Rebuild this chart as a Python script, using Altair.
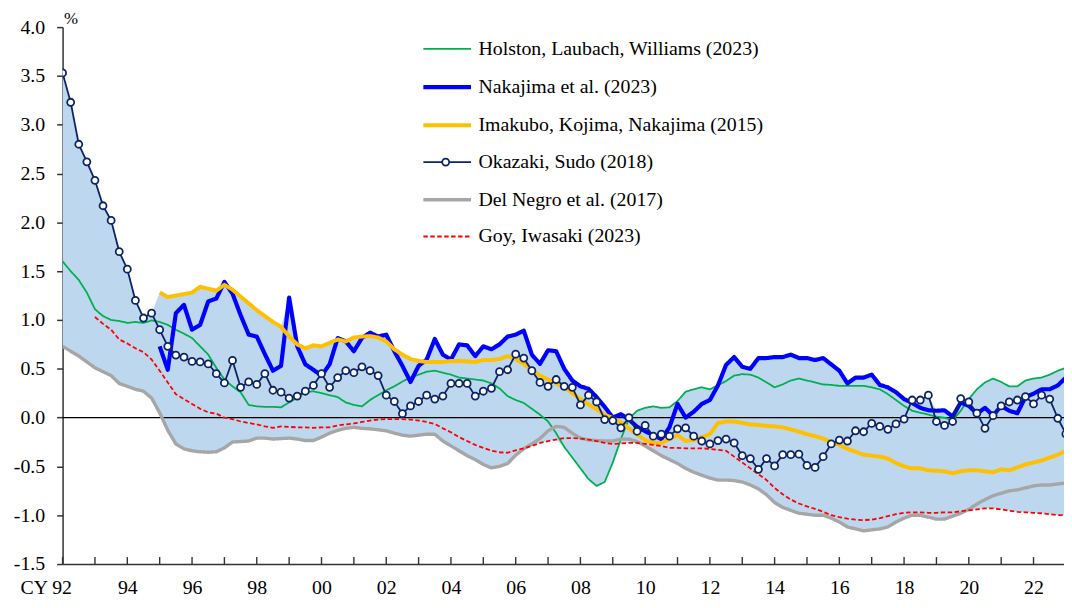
import altair as alt
import pandas as pd

# ---------------- data (quarterly, first quarter = 1992Q1) ----------------
START_YEAR = 1992
N_QUARTERS = 125

series_names = [
    "Holston, Laubach, Williams (2023)",
    "Nakajima et al. (2023)",
    "Imakubo, Kojima, Nakajima (2015)",
    "Okazaki, Sudo (2018)",
    "Del Negro et al. (2017)",
    "Goy, Iwasaki (2023)",
]
series_colors = ["#00B050", "#0000FF", "#FFC000", "#0B2466", "#A6A6A6", "#FF0000"]
series_widths = [1.8, 4.2, 4.0, 1.8, 3.4, 1.8]
series_dashes = [[1, 0], [1, 0], [1, 0], [1, 0], [1, 0], [4.5, 2.5]]

# start quarter index of each series
hlw_start = 0
hlw = [1.60, 1.50, 1.41, 1.28, 1.11, 1.04, 1.00, 0.99, 0.97, 0.98, 0.97, 0.995, 0.98, 0.95, 0.90, 0.86,
       0.815, 0.73, 0.645, 0.51, 0.39, 0.32, 0.26, 0.13, 0.115, 0.11, 0.11, 0.105, 0.155, 0.205, 0.26, 0.27,
       0.25, 0.23, 0.21, 0.155, 0.13, 0.115, 0.18, 0.23, 0.28, 0.32, 0.37, 0.41, 0.44, 0.47, 0.48, 0.46,
       0.44, 0.41, 0.40, 0.39, 0.38, 0.35, 0.30, 0.22, 0.18, 0.15, 0.09, 0.03, -0.04, -0.16, -0.30, -0.41,
       -0.52, -0.63, -0.70, -0.66, -0.46, -0.22, -0.01, 0.07, 0.10, 0.115, 0.10, 0.105, 0.17, 0.265, 0.29, 0.31,
       0.29, 0.33, 0.375, 0.43, 0.445, 0.44, 0.41, 0.36, 0.31, 0.34, 0.38, 0.40, 0.38, 0.36, 0.34, 0.335,
       0.325, 0.325, 0.325, 0.325, 0.31, 0.29, 0.24, 0.18, 0.12, 0.07, 0.05, 0.03, 0.01, 0.0, -0.03, 0.07,
       0.19, 0.29, 0.36, 0.40, 0.365, 0.32, 0.32, 0.38, 0.40, 0.41, 0.44, 0.48, 0.51]

nakajima_start = 12
nakajima = [0.73, 0.49, 1.07, 1.155, 0.90, 0.95, 1.19, 1.22, 1.39, 1.27, 1.05, 0.85, 0.83, 0.65, 0.48, 0.53,
            1.23, 0.73, 0.545, 0.49, 0.43, 0.545, 0.815, 0.78, 0.68, 0.815, 0.87, 0.83, 0.85, 0.68, 0.53, 0.365,
            0.53, 0.595, 0.805, 0.645, 0.595, 0.75, 0.74, 0.63, 0.73, 0.70, 0.75, 0.83, 0.85, 0.89, 0.645, 0.55,
            0.69, 0.68, 0.50, 0.38, 0.32, 0.295, 0.21, 0.11, 0.0, 0.035, -0.02, -0.095, -0.14, -0.18, -0.22, -0.10,
            0.14, 0.0, 0.06, 0.14, 0.18, 0.33, 0.54, 0.62, 0.52, 0.50, 0.61, 0.61, 0.62, 0.62, 0.645, 0.61,
            0.61, 0.59, 0.61, 0.545, 0.48, 0.35, 0.41, 0.41, 0.44, 0.335, 0.31, 0.26, 0.19, 0.15, 0.10, 0.075,
            0.07, 0.075, 0.01, 0.155, 0.12, 0.04, 0.10, 0.02, 0.12, 0.07, 0.045, 0.21, 0.245, 0.29, 0.29, 0.33,
            0.41]

imakubo_start = 12
imakubo = [1.28, 1.235, 1.25, 1.265, 1.28, 1.34, 1.32, 1.30, 1.36, 1.31, 1.24, 1.17, 1.10, 1.04, 0.98, 0.93,
           0.83, 0.75, 0.71, 0.74, 0.73, 0.765, 0.80, 0.78, 0.82, 0.83, 0.835, 0.82, 0.78, 0.70, 0.645, 0.60,
           0.58, 0.57, 0.57, 0.57, 0.58, 0.58, 0.575, 0.57, 0.59, 0.59, 0.60, 0.63, 0.60, 0.55, 0.485, 0.43,
           0.39, 0.35, 0.31, 0.25, 0.19, 0.135, 0.085, 0.03, -0.005, -0.05, -0.11, -0.175, -0.23, -0.26, -0.26, -0.22,
           -0.18, -0.24, -0.23, -0.20, -0.17, -0.055, -0.04, -0.04, -0.055, -0.07, -0.075, -0.085, -0.09, -0.10, -0.12, -0.145,
           -0.17, -0.19, -0.215, -0.25, -0.28, -0.32, -0.35, -0.38, -0.39, -0.40, -0.42, -0.465, -0.50, -0.52, -0.52, -0.54,
           -0.545, -0.55, -0.57, -0.55, -0.54, -0.54, -0.55, -0.56, -0.53, -0.54, -0.51, -0.48, -0.46, -0.44, -0.41, -0.38,
           -0.34]

okazaki_start = 0
okazaki = [3.53, 3.23, 2.80, 2.62, 2.43, 2.17, 2.02, 1.70, 1.52, 1.20, 1.02, 1.07, 0.90, 0.73, 0.64, 0.62,
           0.575, 0.57, 0.55, 0.45, 0.355, 0.585, 0.31, 0.365, 0.34, 0.45, 0.28, 0.26, 0.20, 0.22, 0.27, 0.33,
           0.45, 0.31, 0.41, 0.48, 0.46, 0.52, 0.48, 0.43, 0.23, 0.165, 0.04, 0.12, 0.165, 0.23, 0.19, 0.22,
           0.35, 0.35, 0.35, 0.22, 0.27, 0.30, 0.47, 0.49, 0.65, 0.61, 0.48, 0.36, 0.32, 0.39, 0.32, 0.31,
           0.13, 0.23, 0.16, -0.02, -0.03, -0.105, 0.0, -0.14, -0.08, -0.19, -0.17, -0.19, -0.115, -0.105, -0.19, -0.24,
           -0.27, -0.235, -0.22, -0.26, -0.39, -0.42, -0.53, -0.42, -0.495, -0.38, -0.38, -0.375, -0.49, -0.51, -0.40, -0.27,
           -0.23, -0.24, -0.135, -0.145, -0.06, -0.09, -0.12, -0.065, -0.015, 0.18, 0.18, 0.23, -0.04, -0.08, -0.04, 0.195,
           0.16, 0.045, -0.11, 0.02, 0.12, 0.16, 0.18, 0.215, 0.14, 0.23, 0.19, -0.007, -0.167]

delnegro_start = 0
delnegro = [0.73, 0.68, 0.63, 0.57, 0.51, 0.47, 0.43, 0.35, 0.32, 0.29, 0.27, 0.20, 0.05, -0.13, -0.27, -0.32,
            -0.34, -0.35, -0.355, -0.35, -0.31, -0.25, -0.245, -0.24, -0.21, -0.21, -0.22, -0.215, -0.21, -0.22, -0.235, -0.235,
            -0.20, -0.16, -0.13, -0.11, -0.10, -0.11, -0.115, -0.125, -0.135, -0.16, -0.18, -0.19, -0.18, -0.17, -0.17, -0.24,
            -0.29, -0.34, -0.39, -0.43, -0.48, -0.515, -0.50, -0.47, -0.385, -0.32, -0.27, -0.215, -0.135, -0.09, -0.10, -0.16,
            -0.21, -0.23, -0.235, -0.24, -0.24, -0.22, -0.22, -0.245, -0.29, -0.34, -0.39, -0.43, -0.47, -0.52, -0.56, -0.59,
            -0.62, -0.64, -0.64, -0.645, -0.66, -0.69, -0.73, -0.79, -0.87, -0.92, -0.95, -0.98, -0.99, -1.00, -1.00, -1.03,
            -1.07, -1.12, -1.14, -1.16, -1.15, -1.14, -1.12, -1.07, -1.03, -1.00, -1.00, -1.02, -1.04, -1.04, -1.01, -0.98,
            -0.94, -0.885, -0.84, -0.80, -0.775, -0.75, -0.74, -0.72, -0.70, -0.69, -0.69, -0.68, -0.67]

goy_start = 4
goy = [1.03, 0.96, 0.90, 0.80, 0.76, 0.71, 0.67, 0.595, 0.48, 0.36, 0.24, 0.19, 0.14, 0.09, 0.055, 0.04,
       0.0, -0.015, -0.04, -0.055, -0.07, -0.09, -0.105, -0.09, -0.095, -0.10, -0.10, -0.105, -0.10, -0.10, -0.08, -0.07,
       -0.06, -0.045, -0.03, -0.02, -0.015, -0.015, -0.015, -0.02, -0.03, -0.045, -0.065, -0.11, -0.15, -0.20, -0.24, -0.28,
       -0.31, -0.34, -0.355, -0.36, -0.335, -0.315, -0.29, -0.26, -0.24, -0.225, -0.21, -0.21, -0.215, -0.225, -0.24, -0.26,
       -0.27, -0.265, -0.26, -0.26, -0.27, -0.28, -0.29, -0.31, -0.31, -0.315, -0.315, -0.315, -0.32, -0.33, -0.34, -0.40,
       -0.46, -0.52, -0.58, -0.64, -0.72, -0.785, -0.84, -0.88, -0.91, -0.935, -0.965, -1.00, -1.02, -1.035, -1.045, -1.05,
       -1.045, -1.03, -1.01, -0.99, -0.975, -0.97, -0.97, -0.975, -0.975, -0.97, -0.97, -0.96, -0.95, -0.94, -0.93, -0.93,
       -0.94, -0.955, -0.965, -0.97, -0.975, -0.98, -0.99, -1.00, -1.00]

# axis ticks and labels
x_tick_years = list(range(1992, 2023))
x_label_years = [1992, 1994, 1996, 1998, 2000, 2002, 2004, 2006, 2008, 2010, 2012, 2014, 2016, 2018, 2020, 2022]
x_labels = ["CY 92", "94", "96", "98", "00", "02", "04", "06", "08", "10", "12", "14", "16", "18", "20", "22"]
y_ticks = [-1.5, -1.0, -0.5, 0.0, 0.5, 1.0, 1.5, 2.0, 2.5, 3.0, 3.5, 4.0]
y_labels = ["-1.5", "-1.0", "-0.5", "0.0", "0.5", "1.0", "1.5", "2.0", "2.5", "3.0", "3.5", "4.0"]

# ---------------- build table ----------------
quarters = [START_YEAR + i * 0.25 for i in range(N_QUARTERS)]
rows = []
for name, start, vals in [
    (series_names[0], hlw_start, hlw),
    (series_names[1], nakajima_start, nakajima),
    (series_names[2], imakubo_start, imakubo),
    (series_names[3], okazaki_start, okazaki),
    (series_names[4], delnegro_start, delnegro),
    (series_names[5], goy_start, goy),
]:
    for k, v in enumerate(vals):
        rows.append({"date": quarters[start + k], "value": v, "series": name})
df = pd.DataFrame(rows)
df_ok = df[df["series"] == series_names[3]]

# ---------------- layout ----------------
PLOT_W = 1009
PLOT_H = 541
X_END = 1992 + PLOT_W / 32.61
FONT = "Liberation Serif"
AXIS_COLOR = "#333333"
OK_NAME = [series_names[3]]

x_label_expr = "[" + ",".join("'%s'" % s for s in x_labels) + "][indexof([" + \
    ",".join(str(v) for v in x_label_years) + "], datum.value)]"
y_label_expr = "[" + ",".join("'%s'" % s for s in y_labels) + "][indexof([" + \
    ",".join(str(v) for v in y_ticks) + "], datum.value)]"

x_scale = alt.Scale(domain=[1992, X_END], nice=False, zero=False)
y_scale = alt.Scale(domain=[-1.5, 4.0], nice=False, zero=False)

x_axis = alt.Axis(
    values=x_label_years, labelExpr=x_label_expr, ticks=False, tickSize=0, grid=False,
    title=None, labelFont=FONT, labelFontSize=20, labelColor="black", labelPadding=14,
    labelFlush=False, labelOverlap=False, labelBound=False, labelAngle=0,
    labelOffset={"condition": {"test": "datum.value == 1992", "value": -17}, "value": 0},
    domainColor=AXIS_COLOR, domainWidth=1.5,
)
y_axis = alt.Axis(
    values=y_ticks, labelExpr=y_label_expr, ticks=True, tickSize=6, tickWidth=1.5, tickColor=AXIS_COLOR,
    grid=False, labelFont=FONT, labelFontSize=20, labelColor="black", labelPadding=12,
    labelFlush=False, labelOverlap=False, labelBound=False,
    domainColor=AXIS_COLOR, domainWidth=1.5,
    title="%", titleAngle=0, titleX=1, titleY=0, titleAlign="left", titleBaseline="bottom",
    titleFont=FONT, titleFontSize=17, titleFontWeight="normal", titleColor="black",
)

X_ENC = dict(scale=x_scale, axis=x_axis)
Y_ENC = dict(scale=y_scale, axis=y_axis)

band = alt.Chart(df).transform_aggregate(
    lo="min(value)", hi="max(value)", groupby=["date"]
).mark_area(color="#BDD7EE", clip=True).encode(
    x=alt.X("date:Q", **X_ENC),
    y=alt.Y("lo:Q", **Y_ENC),
    y2="hi:Q",
)

zero_line = alt.Chart(pd.DataFrame({"v": [0.0]})).mark_rule(color="black", strokeWidth=1.3).encode(
    y=alt.Y("v:Q", **Y_ENC)
)

x_ticks = alt.Chart(pd.DataFrame({"t": x_tick_years})).mark_rule(color=AXIS_COLOR, strokeWidth=1.4).encode(
    x=alt.X("t:Q", **X_ENC),
    y=alt.value(PLOT_H),
    y2=alt.value(PLOT_H - 7),
)

line_legend = alt.Legend(
    orient="none", legendX=361, legendY=-3, title=None, symbolType="stroke", symbolSize=2304,
    labelFont=FONT, labelFontSize=20, labelColor="black", labelOffset=5, labelLimit=500,
    rowPadding=2, padding=0,
)

lines = alt.Chart(df).mark_line(clip=True, strokeJoin="round").encode(
    x=alt.X("date:Q", **X_ENC),
    y=alt.Y("value:Q", **Y_ENC),
    color=alt.Color("series:N", scale=alt.Scale(domain=series_names, range=series_colors), legend=line_legend),
    strokeDash=alt.StrokeDash("series:N", scale=alt.Scale(domain=series_names, range=series_dashes), legend=line_legend),
    strokeWidth=alt.StrokeWidth("series:N", scale=alt.Scale(type="ordinal", domain=series_names, range=series_widths),
                                legend=line_legend),
)

marker_legend = alt.Legend(
    orient="none", legendX=381.5, legendY=131.5, title=None, labelExpr="''", labelFontSize=1,
    symbolSize=50, symbolStrokeWidth=1.8, symbolOpacity=1, padding=0,
)

points = alt.Chart(df_ok).mark_point(
    filled=True, strokeWidth=1.8, size=50, opacity=1, clip=True
).encode(
    x=alt.X("date:Q", **X_ENC),
    y=alt.Y("value:Q", **Y_ENC),
    shape=alt.Shape("series:N", scale=alt.Scale(domain=OK_NAME, range=["circle"]), legend=marker_legend),
    fill=alt.Fill("series:N", scale=alt.Scale(domain=OK_NAME, range=["white"]), legend=marker_legend),
    stroke=alt.Stroke("series:N", scale=alt.Scale(domain=OK_NAME, range=[series_colors[3]]), legend=marker_legend),
)

chart = alt.layer(band, zero_line, x_ticks, lines, points).properties(
    width=PLOT_W, height=PLOT_H,
    autosize=alt.AutoSizeParams(type="none"),
    padding={"left": 55, "top": 17, "right": 0, "bottom": 34},
    background="white",
).configure_view(stroke=None).configure_axis(
    labelFont=FONT, titleFont=FONT
).configure_legend(labelFont=FONT)

chart.save("out.html", embed_options={"renderer": "svg", "actions": False})
